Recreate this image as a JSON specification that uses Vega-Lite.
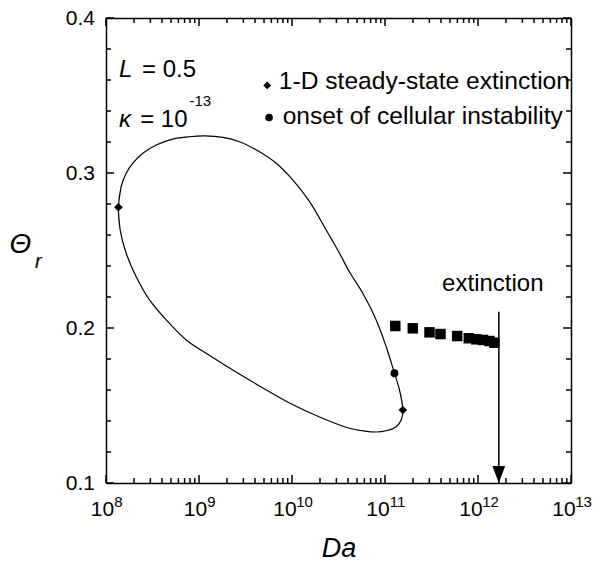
{
  "$schema": "https://vega.github.io/schema/vega-lite/v6.json",
  "width": 465,
  "height": 465,
  "autosize": {"type": "none"},
  "padding": {"left": 106, "top": 18, "right": 33, "bottom": 82},
  "background": "white",
  "config": {
    "view": {"stroke": null},
    "font": "Liberation Sans",
    "axis": {
      "grid": false,
      "domainColor": "black",
      "domainWidth": 1.5,
      "labelColor": "black",
      "titleColor": "black",
      "labelFont": "Liberation Sans",
      "titleFont": "Liberation Sans",
      "labelOverlap": false,
      "labelFlush": false,
      "labelBound": false
    }
  },
  "resolve": {"axis": {"x": "independent", "y": "independent"}},
  "layer": [
    {
      "data": {"values": [
        {"i": 0, "Da": 1.421e8, "theta": 0.2632},
        {"i": 1, "Da": 1.36e8, "theta": 0.2779},
        {"i": 2, "Da": 1.457e8, "theta": 0.2912},
        {"i": 3, "Da": 1.649e8, "theta": 0.2998},
        {"i": 4, "Da": 1.942e8, "theta": 0.3063},
        {"i": 5, "Da": 2.488e8, "theta": 0.3127},
        {"i": 6, "Da": 3.467e8, "theta": 0.3181},
        {"i": 7, "Da": 5.227e8, "theta": 0.3219},
        {"i": 8, "Da": 7.904e8, "theta": 0.3234},
        {"i": 9, "Da": 1.146e9, "theta": 0.3239},
        {"i": 10, "Da": 1.803e9, "theta": 0.3230},
        {"i": 11, "Da": 2.726e9, "theta": 0.3202},
        {"i": 12, "Da": 4.472e9, "theta": 0.3137},
        {"i": 13, "Da": 6.763e9, "theta": 0.3063},
        {"i": 14, "Da": 1.020e10, "theta": 0.2955},
        {"i": 15, "Da": 1.543e10, "theta": 0.2815},
        {"i": 16, "Da": 2.332e10, "theta": 0.2632},
        {"i": 17, "Da": 3.243e10, "theta": 0.2482},
        {"i": 18, "Da": 4.152e10, "theta": 0.2361},
        {"i": 19, "Da": 5.771e10, "theta": 0.2224},
        {"i": 20, "Da": 8.042e10, "theta": 0.2052},
        {"i": 21, "Da": 1.030e11, "theta": 0.1879},
        {"i": 22, "Da": 1.265e11, "theta": 0.1708},
        {"i": 23, "Da": 1.432e11, "theta": 0.1600},
        {"i": 24, "Da": 1.554e11, "theta": 0.1471},
        {"i": 25, "Da": 1.494e11, "theta": 0.1406},
        {"i": 26, "Da": 1.319e11, "theta": 0.1363},
        {"i": 27, "Da": 1.030e11, "theta": 0.1337},
        {"i": 28, "Da": 8.042e10, "theta": 0.1329},
        {"i": 29, "Da": 5.771e10, "theta": 0.1337},
        {"i": 30, "Da": 4.152e10, "theta": 0.1353},
        {"i": 31, "Da": 1.976e10, "theta": 0.1426},
        {"i": 32, "Da": 9.40e9, "theta": 0.1516},
        {"i": 33, "Da": 4.472e9, "theta": 0.1626},
        {"i": 34, "Da": 2.308e9, "theta": 0.1729},
        {"i": 35, "Da": 1.195e9, "theta": 0.1837},
        {"i": 36, "Da": 7.286e8, "theta": 0.1923},
        {"i": 37, "Da": 4.440e8, "theta": 0.2052},
        {"i": 38, "Da": 2.937e8, "theta": 0.2181},
        {"i": 39, "Da": 2.112e8, "theta": 0.2331},
        {"i": 40, "Da": 1.649e8, "theta": 0.2482},
        {"i": 41, "Da": 1.421e8, "theta": 0.2632},
        {"i": 42, "Da": 1.36e8, "theta": 0.2779},
        {"i": 43, "Da": 1.457e8, "theta": 0.2912}
      ]},
      "mark": {"type": "line", "color": "black", "strokeWidth": 1.2, "interpolate": "catmull-rom", "clip": false},
      "encoding": {
        "order": {"field": "i", "type": "quantitative"},
        "x": {
          "field": "Da", "type": "quantitative",
          "scale": {"type": "log", "domain": [1e8, 1e13], "nice": false},
          "axis": {
            "orient": "bottom",
            "values": [1e8, 1e9, 1e10, 1e11, 1e12, 1e13],
            "labelExpr": "'10'",
            "ticks": false,
            "labelOffset": {"condition": {"test": "datum.value >= 5e9", "value": -7.5}, "value": -4},
            "labelFontSize": 21,
            "labelPadding": 15,
            "title": "Da",
            "titleFontSize": 27,
            "titleFontStyle": "italic",
            "titleFontWeight": "normal",
            "titlePadding": 16
          }
        },
        "y": {
          "field": "theta", "type": "quantitative",
          "scale": {"domain": [0.1, 0.4], "nice": false, "zero": false},
          "axis": {
            "orient": "left",
            "values": [0.1, 0.2, 0.3, 0.4],
            "format": ".1f",
            "ticks": false,
            "labelFontSize": 21,
            "labelPadding": 11.5,
            "title": null
          }
        }
      }
    },
    {
      "data": {"values": [
        {"Da": 1.29e11, "theta": 0.2013},
        {"Da": 1.99e11, "theta": 0.1998},
        {"Da": 3.01e11, "theta": 0.1972},
        {"Da": 3.95e11, "theta": 0.1961},
        {"Da": 5.97e11, "theta": 0.1948},
        {"Da": 7.96e11, "theta": 0.1934},
        {"Da": 9.57e11, "theta": 0.1927},
        {"Da": 1.13e12, "theta": 0.1923},
        {"Da": 1.33e12, "theta": 0.1916},
        {"Da": 1.50e12, "theta": 0.1905}
      ]},
      "mark": {"type": "point", "shape": "square", "filled": true, "color": "black", "opacity": 1, "size": 110},
      "encoding": {
        "x": {
          "field": "Da", "type": "quantitative",
          "axis": {"orient": "top", "ticks": false, "labels": false, "title": null}
        },
        "y": {
          "field": "theta", "type": "quantitative",
          "axis": {"orient": "right", "ticks": false, "labels": false, "title": null}
        }
      }
    },
    {
      "data": {"values": [
        {"Da": 1e8, "y0": 0.1, "y1": 0.1052}, {"Da": 1e9, "y0": 0.1, "y1": 0.1052}, {"Da": 1e10, "y0": 0.1, "y1": 0.1052},
        {"Da": 1e11, "y0": 0.1, "y1": 0.1052}, {"Da": 1e12, "y0": 0.1, "y1": 0.1052}, {"Da": 1e13, "y0": 0.1, "y1": 0.1052},
        {"Da": 1e8, "y0": 0.4, "y1": 0.3948}, {"Da": 1e9, "y0": 0.4, "y1": 0.3948}, {"Da": 1e10, "y0": 0.4, "y1": 0.3948},
        {"Da": 1e11, "y0": 0.4, "y1": 0.3948}, {"Da": 1e12, "y0": 0.4, "y1": 0.3948}, {"Da": 1e13, "y0": 0.4, "y1": 0.3948}
      ]},
      "mark": {"type": "rule", "color": "black", "strokeWidth": 1.5},
      "encoding": {
        "x": {"field": "Da", "type": "quantitative", "axis": null},
        "y": {"field": "y0", "type": "quantitative", "axis": null},
        "y2": {"field": "y1"}
      }
    },
    {
      "data": {"values": [
        {"Da": 2e8, "y0": 0.1, "y1": 0.1032}, {"Da": 3e8, "y0": 0.1, "y1": 0.1032}, {"Da": 4e8, "y0": 0.1, "y1": 0.1032}, {"Da": 5e8, "y0": 0.1, "y1": 0.1032}, {"Da": 6e8, "y0": 0.1, "y1": 0.1032}, {"Da": 7e8, "y0": 0.1, "y1": 0.1032}, {"Da": 8e8, "y0": 0.1, "y1": 0.1032}, {"Da": 9e8, "y0": 0.1, "y1": 0.1032},
        {"Da": 2e9, "y0": 0.1, "y1": 0.1032}, {"Da": 3e9, "y0": 0.1, "y1": 0.1032}, {"Da": 4e9, "y0": 0.1, "y1": 0.1032}, {"Da": 5e9, "y0": 0.1, "y1": 0.1032}, {"Da": 6e9, "y0": 0.1, "y1": 0.1032}, {"Da": 7e9, "y0": 0.1, "y1": 0.1032}, {"Da": 8e9, "y0": 0.1, "y1": 0.1032}, {"Da": 9e9, "y0": 0.1, "y1": 0.1032},
        {"Da": 2e10, "y0": 0.1, "y1": 0.1032}, {"Da": 3e10, "y0": 0.1, "y1": 0.1032}, {"Da": 4e10, "y0": 0.1, "y1": 0.1032}, {"Da": 5e10, "y0": 0.1, "y1": 0.1032}, {"Da": 6e10, "y0": 0.1, "y1": 0.1032}, {"Da": 7e10, "y0": 0.1, "y1": 0.1032}, {"Da": 8e10, "y0": 0.1, "y1": 0.1032}, {"Da": 9e10, "y0": 0.1, "y1": 0.1032},
        {"Da": 2e11, "y0": 0.1, "y1": 0.1032}, {"Da": 3e11, "y0": 0.1, "y1": 0.1032}, {"Da": 4e11, "y0": 0.1, "y1": 0.1032}, {"Da": 5e11, "y0": 0.1, "y1": 0.1032}, {"Da": 6e11, "y0": 0.1, "y1": 0.1032}, {"Da": 7e11, "y0": 0.1, "y1": 0.1032}, {"Da": 8e11, "y0": 0.1, "y1": 0.1032}, {"Da": 9e11, "y0": 0.1, "y1": 0.1032},
        {"Da": 2e12, "y0": 0.1, "y1": 0.1032}, {"Da": 3e12, "y0": 0.1, "y1": 0.1032}, {"Da": 4e12, "y0": 0.1, "y1": 0.1032}, {"Da": 5e12, "y0": 0.1, "y1": 0.1032}, {"Da": 6e12, "y0": 0.1, "y1": 0.1032}, {"Da": 7e12, "y0": 0.1, "y1": 0.1032}, {"Da": 8e12, "y0": 0.1, "y1": 0.1032}, {"Da": 9e12, "y0": 0.1, "y1": 0.1032},
        {"Da": 2e8, "y0": 0.4, "y1": 0.3968}, {"Da": 3e8, "y0": 0.4, "y1": 0.3968}, {"Da": 4e8, "y0": 0.4, "y1": 0.3968}, {"Da": 5e8, "y0": 0.4, "y1": 0.3968}, {"Da": 6e8, "y0": 0.4, "y1": 0.3968}, {"Da": 7e8, "y0": 0.4, "y1": 0.3968}, {"Da": 8e8, "y0": 0.4, "y1": 0.3968}, {"Da": 9e8, "y0": 0.4, "y1": 0.3968},
        {"Da": 2e9, "y0": 0.4, "y1": 0.3968}, {"Da": 3e9, "y0": 0.4, "y1": 0.3968}, {"Da": 4e9, "y0": 0.4, "y1": 0.3968}, {"Da": 5e9, "y0": 0.4, "y1": 0.3968}, {"Da": 6e9, "y0": 0.4, "y1": 0.3968}, {"Da": 7e9, "y0": 0.4, "y1": 0.3968}, {"Da": 8e9, "y0": 0.4, "y1": 0.3968}, {"Da": 9e9, "y0": 0.4, "y1": 0.3968},
        {"Da": 2e10, "y0": 0.4, "y1": 0.3968}, {"Da": 3e10, "y0": 0.4, "y1": 0.3968}, {"Da": 4e10, "y0": 0.4, "y1": 0.3968}, {"Da": 5e10, "y0": 0.4, "y1": 0.3968}, {"Da": 6e10, "y0": 0.4, "y1": 0.3968}, {"Da": 7e10, "y0": 0.4, "y1": 0.3968}, {"Da": 8e10, "y0": 0.4, "y1": 0.3968}, {"Da": 9e10, "y0": 0.4, "y1": 0.3968},
        {"Da": 2e11, "y0": 0.4, "y1": 0.3968}, {"Da": 3e11, "y0": 0.4, "y1": 0.3968}, {"Da": 4e11, "y0": 0.4, "y1": 0.3968}, {"Da": 5e11, "y0": 0.4, "y1": 0.3968}, {"Da": 6e11, "y0": 0.4, "y1": 0.3968}, {"Da": 7e11, "y0": 0.4, "y1": 0.3968}, {"Da": 8e11, "y0": 0.4, "y1": 0.3968}, {"Da": 9e11, "y0": 0.4, "y1": 0.3968},
        {"Da": 2e12, "y0": 0.4, "y1": 0.3968}, {"Da": 3e12, "y0": 0.4, "y1": 0.3968}, {"Da": 4e12, "y0": 0.4, "y1": 0.3968}, {"Da": 5e12, "y0": 0.4, "y1": 0.3968}, {"Da": 6e12, "y0": 0.4, "y1": 0.3968}, {"Da": 7e12, "y0": 0.4, "y1": 0.3968}, {"Da": 8e12, "y0": 0.4, "y1": 0.3968}, {"Da": 9e12, "y0": 0.4, "y1": 0.3968}
      ]},
      "mark": {"type": "rule", "color": "black", "strokeWidth": 1.5},
      "encoding": {
        "x": {"field": "Da", "type": "quantitative", "axis": null},
        "y": {"field": "y0", "type": "quantitative", "axis": null},
        "y2": {"field": "y1"}
      }
    },
    {
      "data": {"values": [
        {"theta": 0.1, "x0": 1e8, "x1": 1.219e8}, {"theta": 0.2, "x0": 1e8, "x1": 1.219e8}, {"theta": 0.3, "x0": 1e8, "x1": 1.219e8}, {"theta": 0.4, "x0": 1e8, "x1": 1.219e8},
        {"theta": 0.1, "x0": 8.2e12, "x1": 1e13}, {"theta": 0.2, "x0": 8.2e12, "x1": 1e13}, {"theta": 0.3, "x0": 8.2e12, "x1": 1e13}, {"theta": 0.4, "x0": 8.2e12, "x1": 1e13},
        {"theta": 0.12, "x0": 1e8, "x1": 1.132e8}, {"theta": 0.14, "x0": 1e8, "x1": 1.132e8}, {"theta": 0.16, "x0": 1e8, "x1": 1.132e8}, {"theta": 0.18, "x0": 1e8, "x1": 1.132e8},
        {"theta": 0.22, "x0": 1e8, "x1": 1.132e8}, {"theta": 0.24, "x0": 1e8, "x1": 1.132e8}, {"theta": 0.26, "x0": 1e8, "x1": 1.132e8}, {"theta": 0.28, "x0": 1e8, "x1": 1.132e8},
        {"theta": 0.32, "x0": 1e8, "x1": 1.132e8}, {"theta": 0.34, "x0": 1e8, "x1": 1.132e8}, {"theta": 0.36, "x0": 1e8, "x1": 1.132e8}, {"theta": 0.38, "x0": 1e8, "x1": 1.132e8},
        {"theta": 0.12, "x0": 8.835e12, "x1": 1e13}, {"theta": 0.14, "x0": 8.835e12, "x1": 1e13}, {"theta": 0.16, "x0": 8.835e12, "x1": 1e13}, {"theta": 0.18, "x0": 8.835e12, "x1": 1e13},
        {"theta": 0.22, "x0": 8.835e12, "x1": 1e13}, {"theta": 0.24, "x0": 8.835e12, "x1": 1e13}, {"theta": 0.26, "x0": 8.835e12, "x1": 1e13}, {"theta": 0.28, "x0": 8.835e12, "x1": 1e13},
        {"theta": 0.32, "x0": 8.835e12, "x1": 1e13}, {"theta": 0.34, "x0": 8.835e12, "x1": 1e13}, {"theta": 0.36, "x0": 8.835e12, "x1": 1e13}, {"theta": 0.38, "x0": 8.835e12, "x1": 1e13}
      ]},
      "mark": {"type": "rule", "color": "black", "strokeWidth": 1.5},
      "encoding": {
        "y": {"field": "theta", "type": "quantitative", "axis": null},
        "x": {"field": "x0", "type": "quantitative", "axis": null},
        "x2": {"field": "x1"}
      }
    },
    {
      "data": {"values": [
        {"Da": 1.36e8, "theta": 0.2779},
        {"Da": 1.554e11, "theta": 0.1471}
      ]},
      "mark": {"type": "point", "shape": "diamond", "filled": true, "color": "black", "opacity": 1, "size": 75},
      "encoding": {
        "x": {"field": "Da", "type": "quantitative", "axis": null},
        "y": {"field": "theta", "type": "quantitative", "axis": null}
      }
    },
    {
      "data": {"values": [
        {"Da": 1.265e11, "theta": 0.1708}
      ]},
      "mark": {"type": "point", "shape": "circle", "filled": true, "color": "black", "opacity": 1, "size": 62},
      "encoding": {
        "x": {"field": "Da", "type": "quantitative", "axis": null},
        "y": {"field": "theta", "type": "quantitative", "axis": null}
      }
    },
    {
      "data": {"values": [
        {"Da": 1.675e12, "top": 0.2105, "bottom": 0.1}
      ]},
      "mark": {"type": "rule", "color": "black", "strokeWidth": 1.5},
      "encoding": {
        "x": {"field": "Da", "type": "quantitative", "axis": null},
        "y": {"field": "top", "type": "quantitative", "axis": null},
        "y2": {"field": "bottom"}
      }
    },
    {
      "data": {"values": [
        {"Da": 1.675e12, "theta": 0.1}
      ]},
      "mark": {"type": "point", "shape": "M -0.75 -2 L 0.75 -2 L 0 0 Z", "filled": true, "color": "black", "opacity": 1, "size": 289},
      "encoding": {
        "x": {"field": "Da", "type": "quantitative", "axis": null},
        "y": {"field": "theta", "type": "quantitative", "axis": null}
      }
    },
    {
      "data": {"values": [
        {"Da": 1.443e12, "theta": 0.2241, "label": "extinction"}
      ]},
      "mark": {"type": "text", "align": "center", "baseline": "alphabetic", "fontSize": 24, "color": "black"},
      "encoding": {
        "x": {"field": "Da", "type": "quantitative", "axis": null},
        "y": {"field": "theta", "type": "quantitative", "axis": null},
        "text": {"field": "label"}
      }
    },
    {
      "data": {"values": [
        {"Da": 5.41e9, "theta": 0.3565}
      ]},
      "mark": {"type": "point", "shape": "diamond", "filled": true, "color": "black", "opacity": 1, "size": 60},
      "encoding": {
        "x": {"field": "Da", "type": "quantitative", "axis": null},
        "y": {"field": "theta", "type": "quantitative", "axis": null}
      }
    },
    {
      "data": {"values": [
        {"Da": 5.67e9, "theta": 0.3358}
      ]},
      "mark": {"type": "point", "shape": "circle", "filled": true, "color": "black", "opacity": 1, "size": 58},
      "encoding": {
        "x": {"field": "Da", "type": "quantitative", "axis": null},
        "y": {"field": "theta", "type": "quantitative", "axis": null}
      }
    },
    {
      "data": {"values": [
        {"Da": 7.21e9, "theta": 0.3539, "label": "1-D steady-state extinction"},
        {"Da": 7.93e9, "theta": 0.3316, "label": "onset of cellular instability"}
      ]},
      "mark": {"type": "text", "align": "left", "baseline": "alphabetic", "fontSize": 24.6, "color": "black"},
      "encoding": {
        "x": {"field": "Da", "type": "quantitative", "axis": null},
        "y": {"field": "theta", "type": "quantitative", "axis": null},
        "text": {"field": "label"}
      }
    },
    {
      "data": {"values": [
        {"Da": 2.44e8, "theta": 0.3619, "label": "= 0.5"},
        {"Da": 2.33e8, "theta": 0.3297, "label": "= 10"}
      ]},
      "mark": {"type": "text", "align": "left", "baseline": "alphabetic", "fontSize": 24, "color": "black"},
      "encoding": {
        "x": {"field": "Da", "type": "quantitative", "axis": null},
        "y": {"field": "theta", "type": "quantitative", "axis": null},
        "text": {"field": "label"}
      }
    },
    {
      "data": {"values": [
        {"Da": 1.377e8, "theta": 0.3619, "label": "L"},
        {"Da": 1.377e8, "theta": 0.3297, "label": "κ"}
      ]},
      "mark": {"type": "text", "align": "left", "baseline": "alphabetic", "fontSize": 24, "fontStyle": "italic", "color": "black"},
      "encoding": {
        "x": {"field": "Da", "type": "quantitative", "axis": null},
        "y": {"field": "theta", "type": "quantitative", "axis": null},
        "text": {"field": "label"}
      }
    },
    {
      "data": {"values": [
        {"Da": 7.9e8, "theta": 0.3432, "label": "-13"}
      ]},
      "mark": {"type": "text", "align": "left", "baseline": "alphabetic", "fontSize": 15, "color": "black"},
      "encoding": {
        "x": {"field": "Da", "type": "quantitative", "axis": null},
        "y": {"field": "theta", "type": "quantitative", "axis": null},
        "text": {"field": "label"}
      }
    },
    {
      "data": {"values": [
        {"Da": 1.2e7, "theta": 0.2484, "label": "Θ"}
      ]},
      "mark": {"type": "text", "align": "center", "baseline": "alphabetic", "fontSize": 28, "fontStyle": "italic", "color": "black", "clip": false},
      "encoding": {
        "x": {"field": "Da", "type": "quantitative", "axis": null},
        "y": {"field": "theta", "type": "quantitative", "axis": null},
        "text": {"field": "label"}
      }
    },
    {
      "data": {"values": [
        {"Da": 1.72e7, "theta": 0.2387, "label": "r"}
      ]},
      "mark": {"type": "text", "align": "left", "baseline": "alphabetic", "fontSize": 20, "fontStyle": "italic", "color": "black", "clip": false},
      "encoding": {
        "x": {"field": "Da", "type": "quantitative", "axis": null},
        "y": {"field": "theta", "type": "quantitative", "axis": null},
        "text": {"field": "label"}
      }
    },
    {
      "data": {"values": [
        {"Da": 1e8, "exp": "8"},
        {"Da": 1e9, "exp": "9"},
        {"Da": 1e10, "exp": "10"},
        {"Da": 1e11, "exp": "11"},
        {"Da": 1e12, "exp": "12"},
        {"Da": 1e13, "exp": "13"}
      ]},
      "mark": {"type": "text", "align": "center", "baseline": "alphabetic", "fontSize": 15, "dx": 12.5, "dy": 24, "color": "black", "clip": false},
      "encoding": {
        "x": {"field": "Da", "type": "quantitative", "axis": null},
        "y": {"datum": 0.1, "type": "quantitative", "axis": null},
        "text": {"field": "exp"}
      }
    }
  ]
}
